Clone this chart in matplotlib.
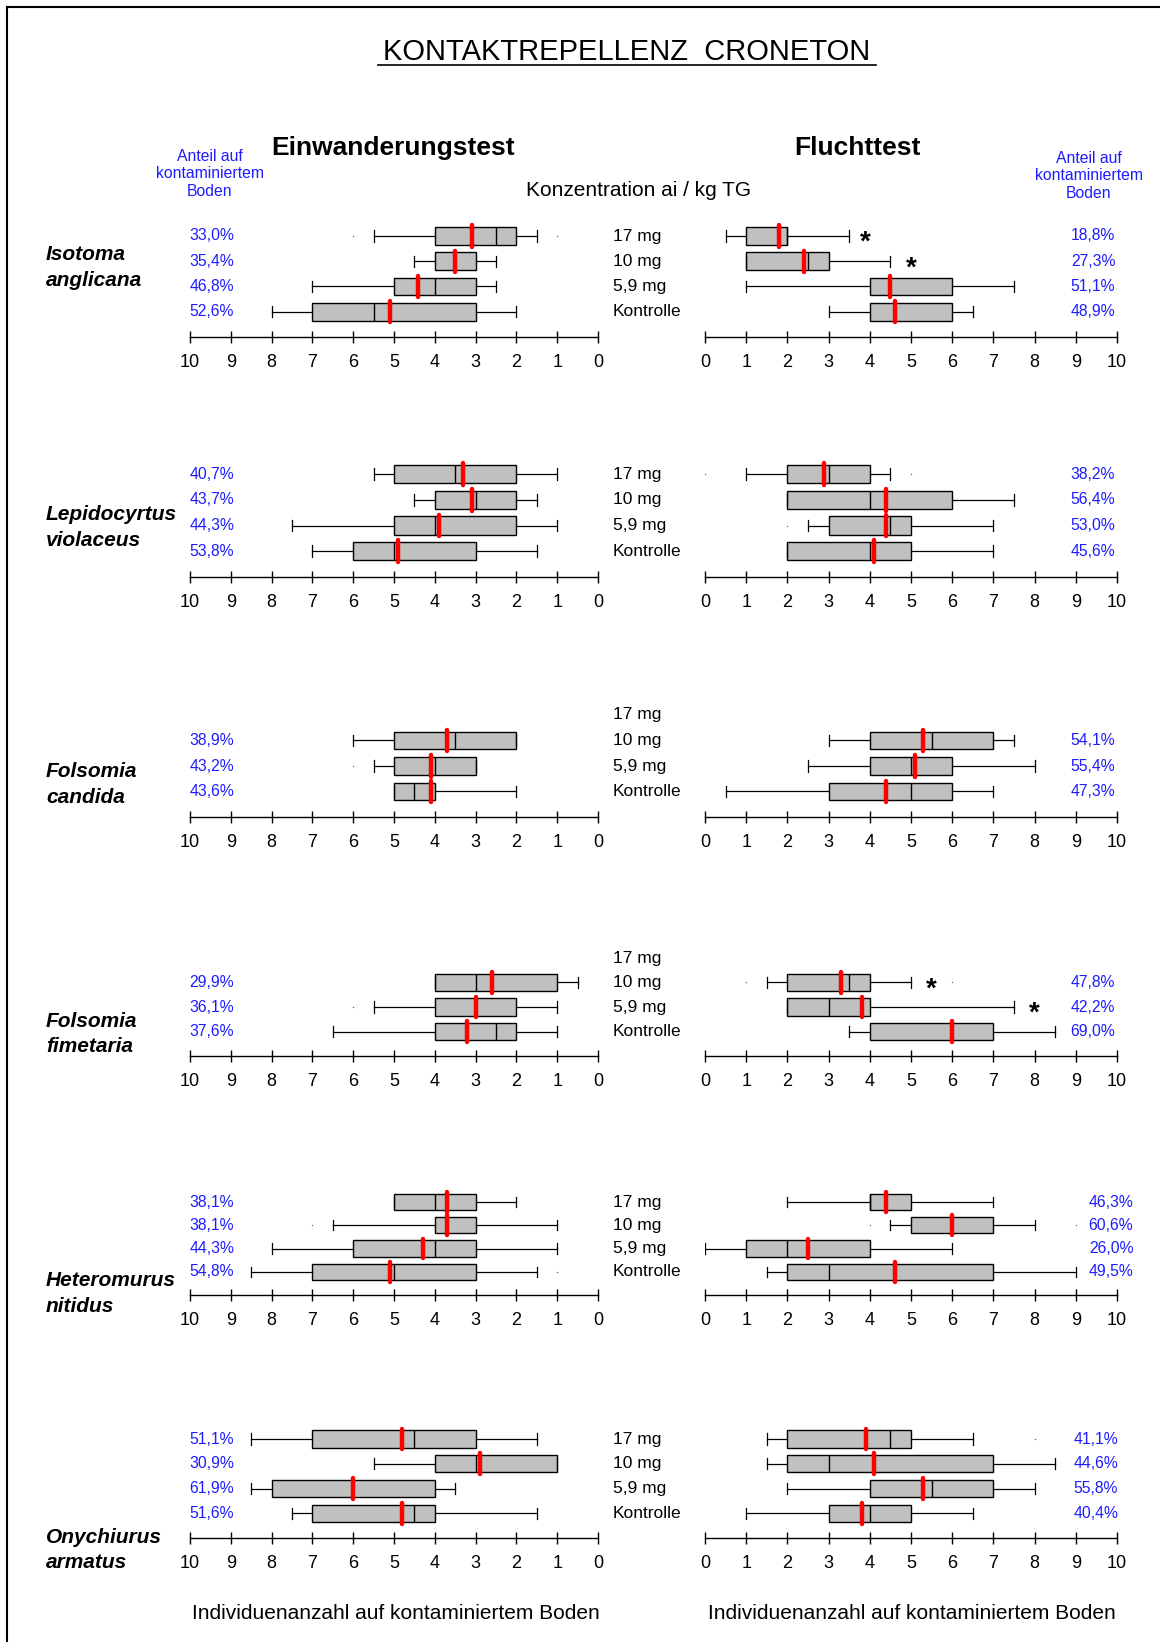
import matplotlib
matplotlib.use("Agg")
import matplotlib.pyplot as plt
from matplotlib.lines import Line2D

plt.rcParams['font.family'] = ['Liberation Sans', 'DejaVu Sans']

W, H = 1160, 1642
BLUE = '#1c1cff'

# ---------------------------------------------------------------- data
species = [("Isotoma", "anglicana"), ("Lepidocyrtus", "violaceus"),
           ("Folsomia", "candida"), ("Folsomia", "fimetaria"),
           ("Heteromurus", "nitidus"), ("Onychiurus", "armatus")]
conc_labels = ["17 mg", "10 mg", "5,9 mg", "Kontrolle"]
ticks = list(range(11))

# Einwanderungstest (left panels), rows: 17 mg, 10 mg, 5,9 mg, Kontrolle
ein_min = [[1.5, 2.5, 2.5, 2.0], [1.0, 1.5, 1.0, 1.5], [None, 2.0, 3.0, 2.0],
           [None, 0.5, 1.0, 1.0], [2.0, 1.0, 1.0, 1.5], [1.5, 1.0, 3.5, 1.5]]
ein_q1 = [[2.0, 3.0, 3.0, 3.0], [2.0, 2.0, 2.0, 3.0], [None, 2.0, 3.0, 4.0],
          [None, 1.0, 2.0, 2.0], [3.0, 3.0, 3.0, 3.0], [3.0, 1.0, 4.0, 4.0]]
ein_med = [[2.5, 3.5, 4.0, 5.5], [3.5, 3.0, 4.0, 5.0], [None, 3.5, 4.0, 4.5],
           [None, 3.0, 3.0, 2.5], [4.0, 3.7, 4.0, 5.0], [4.5, 3.0, 6.0, 4.5]]
ein_q3 = [[4.0, 4.0, 5.0, 7.0], [5.0, 4.0, 5.0, 6.0], [None, 5.0, 5.0, 5.0],
          [None, 4.0, 4.0, 4.0], [5.0, 4.0, 6.0, 7.0], [7.0, 4.0, 8.0, 7.0]]
ein_max = [[5.5, 4.5, 7.0, 8.0], [5.5, 4.5, 7.5, 7.0], [None, 6.0, 5.5, 5.0],
           [None, 4.0, 5.5, 6.5], [5.0, 6.5, 8.0, 8.5], [8.5, 5.5, 8.5, 7.5]]
ein_mean = [[3.1, 3.5, 4.4, 5.1], [3.3, 3.1, 3.9, 4.9], [None, 3.7, 4.1, 4.1],
            [None, 2.6, 3.0, 3.2], [3.7, 3.7, 4.3, 5.1], [4.8, 2.9, 6.0, 4.8]]
ein_fliers = [[[1.0, 6.0], [], [], []], [[], [], [], []], [[], [], [6.0], []],
              [[], [], [6.0], []], [[], [7.0], [], [1.0]], [[], [], [], []]]
ein_star = [[None] * 4 for _ in range(6)]
ein_pct = [["33,0%", "35,4%", "46,8%", "52,6%"], ["40,7%", "43,7%", "44,3%", "53,8%"],
           [None, "38,9%", "43,2%", "43,6%"], [None, "29,9%", "36,1%", "37,6%"],
           ["38,1%", "38,1%", "44,3%", "54,8%"], ["51,1%", "30,9%", "61,9%", "51,6%"]]

# Fluchttest (right panels)
flu_min = [[0.5, 1.0, 1.0, 3.0], [1.0, 2.0, 2.5, 2.0], [None, 3.0, 2.5, 0.5],
           [None, 1.5, 2.0, 3.5], [2.0, 4.5, 0.0, 1.5], [1.5, 1.5, 2.0, 1.0]]
flu_q1 = [[1.0, 1.0, 4.0, 4.0], [2.0, 2.0, 3.0, 2.0], [None, 4.0, 4.0, 3.0],
          [None, 2.0, 2.0, 4.0], [4.0, 5.0, 1.0, 2.0], [2.0, 2.0, 4.0, 3.0]]
flu_med = [[2.0, 2.5, 4.5, 4.6], [3.0, 4.0, 4.5, 4.0], [None, 5.5, 5.0, 5.0],
           [None, 3.5, 3.0, 6.0], [4.0, 6.0, 2.0, 3.0], [4.5, 3.0, 5.5, 4.0]]
flu_q3 = [[2.0, 3.0, 6.0, 6.0], [4.0, 6.0, 5.0, 5.0], [None, 7.0, 6.0, 6.0],
          [None, 4.0, 4.0, 7.0], [5.0, 7.0, 4.0, 7.0], [5.0, 7.0, 7.0, 5.0]]
flu_max = [[3.5, 4.5, 7.5, 6.5], [4.5, 7.5, 7.0, 7.0], [None, 7.5, 8.0, 7.0],
           [None, 5.0, 7.5, 8.5], [7.0, 8.0, 6.0, 9.0], [6.5, 8.5, 8.0, 6.5]]
flu_mean = [[1.8, 2.4, 4.5, 4.6], [2.9, 4.4, 4.4, 4.1], [None, 5.3, 5.1, 4.4],
            [None, 3.3, 3.8, 6.0], [4.4, 6.0, 2.5, 4.6], [3.9, 4.1, 5.3, 3.8]]
flu_fliers = [[[], [], [], []], [[0.0, 5.0], [], [2.0], []], [[], [], [], []],
              [[], [1.0, 6.0], [], []], [[], [4.0, 9.0], [], []], [[8.0], [], [], []]]
flu_star = [[3.9, 5.0, None, None], [None] * 4, [None] * 4,
            [None, 5.5, 8.0, None], [None] * 4, [None] * 4]
flu_pct = [["18,8%", "27,3%", "51,1%", "48,9%"], ["38,2%", "56,4%", "53,0%", "45,6%"],
           [None, "54,1%", "55,4%", "47,3%"], [None, "47,8%", "42,2%", "69,0%"],
           ["46,3%", "60,6%", "26,0%", "49,5%"], ["41,1%", "44,6%", "55,8%", "40,4%"]]

# ---------------------------------------------------------------- layout (pixels)
panel_row0 = [236, 474, 715, 958, 1202, 1439]
panel_axis = [337, 577, 817, 1056, 1295, 1538]
species_y = [(254, 281), (514, 540), (771, 797), (1021, 1047), (1280, 1306), (1537, 1562)]
left_pct_x = [212, 212, 212, 212, 212, 212]
right_pct_x = [1093, 1093, 1093, 1093, 1111, 1096]

fig = plt.figure(figsize=(W / 100, H / 100), dpi=100)


def fx(x):
    return x / W


def fy(y):
    return 1 - y / H


def ftext(x, y, s, **kw):
    fig.text(fx(x), fy(y), s, **kw)


# frame
fig.add_artist(Line2D([fx(7), fx(W)], [fy(7), fy(7)], color='black', lw=1.5))
fig.add_artist(Line2D([fx(7), fx(7)], [fy(7), fy(H)], color='black', lw=1.5))

# headers
ftext(627, 52, "KONTAKTREPELLENZ  CRONETON", fontsize=21, ha='center', va='center')
fig.add_artist(Line2D([fx(378), fx(876)], [fy(65), fy(65)], color='black', lw=1.2))
ftext(393, 148, "Einwanderungstest", fontsize=19, weight='bold', ha='center', va='center')
ftext(857, 148, "Fluchttest", fontsize=19, weight='bold', ha='center', va='center')
ftext(638, 190, "Konzentration ai / kg TG", fontsize=15, ha='center', va='center')
ftext(210, 174, "Anteil auf\nkontaminiertem\nBoden", fontsize=11.3, color=BLUE,
      ha='center', va='center', multialignment='center')
ftext(1089, 176, "Anteil auf\nkontaminiertem\nBoden", fontsize=11.3, color=BLUE,
      ha='center', va='center', multialignment='center')
ftext(396, 1613, "Individuenanzahl auf kontaminiertem Boden", fontsize=15, ha='center', va='center')
ftext(912, 1613, "Individuenanzahl auf kontaminiertem Boden", fontsize=15, ha='center', va='center')

sides = [
    dict(x0=190, x1=598, xlim=(10, 0), pct_x=left_pct_x,
         mn=ein_min, q1=ein_q1, med=ein_med, q3=ein_q3, mx=ein_max, mean=ein_mean,
         fl=ein_fliers, star=ein_star, pct=ein_pct),
    dict(x0=705, x1=1117, xlim=(0, 10), pct_x=right_pct_x,
         mn=flu_min, q1=flu_q1, med=flu_med, q3=flu_q3, mx=flu_max, mean=flu_mean,
         fl=flu_fliers, star=flu_star, pct=flu_pct),
]

for k, (genus, epithet) in enumerate(species):
    r0, yax = panel_row0[k], panel_axis[k]
    s = (yax - r0) / 4.0
    ytop = r0 - 0.8 * s

    ftext(46, species_y[k][0], genus, fontsize=15, weight='bold', style='italic', va='center')
    ftext(46, species_y[k][1], epithet, fontsize=15, weight='bold', style='italic', va='center')
    for i, lab in enumerate(conc_labels):
        ftext(613, r0 + i * s, lab, fontsize=12.5, va='center')

    for sd in sides:
        ax = fig.add_axes([fx(sd['x0']), fy(yax), (sd['x1'] - sd['x0']) / W, (yax - ytop) / H])
        ax.patch.set_visible(False)
        stats, pos, means = [], [], []
        for i in range(4):
            if sd['q1'][k][i] is None:
                continue
            stats.append(dict(med=sd['med'][k][i], q1=sd['q1'][k][i], q3=sd['q3'][k][i],
                              whislo=sd['mn'][k][i], whishi=sd['mx'][k][i],
                              fliers=sd['fl'][k][i]))
            pos.append(i)
            means.append(sd['mean'][k][i])
            if sd['star'][k][i] is not None:
                ax.text(sd['star'][k][i], i + 0.28, '*', fontsize=20, weight='bold',
                        ha='center', va='center')
            ftext(sd['pct_x'][k], r0 + i * s, sd['pct'][k][i], fontsize=11.3, color=BLUE,
                  ha='center', va='center')
        ax.bxp(stats, positions=pos, widths=0.7, orientation='horizontal', patch_artist=True,
               capwidths=0.45, manage_ticks=False,
               boxprops=dict(facecolor='#c0c0c0', edgecolor='black', linewidth=1.0),
               medianprops=dict(color='black', linewidth=1.0),
               whiskerprops=dict(color='black', linewidth=0.9),
               capprops=dict(color='black', linewidth=0.9),
               flierprops=dict(marker='.', markersize=2, markerfacecolor='#666666',
                               markeredgecolor='none'))
        ax.vlines(means, [p - 0.42 for p in pos], [p + 0.42 for p in pos],
                  colors='#ff0000', linewidth=3.2, capstyle='round', zorder=5)
        ax.set_xlim(sd['xlim'])
        ax.set_ylim(4, -0.8)
        for sp in ('left', 'right', 'top'):
            ax.spines[sp].set_visible(False)
        ax.spines['bottom'].set_linewidth(1.0)
        ax.set_yticks([])
        ax.set_xticks(ticks)
        ax.tick_params(axis='x', direction='inout', length=8, width=1.0,
                       labelsize=13, pad=8)

fig.savefig("out.png", dpi=100)
